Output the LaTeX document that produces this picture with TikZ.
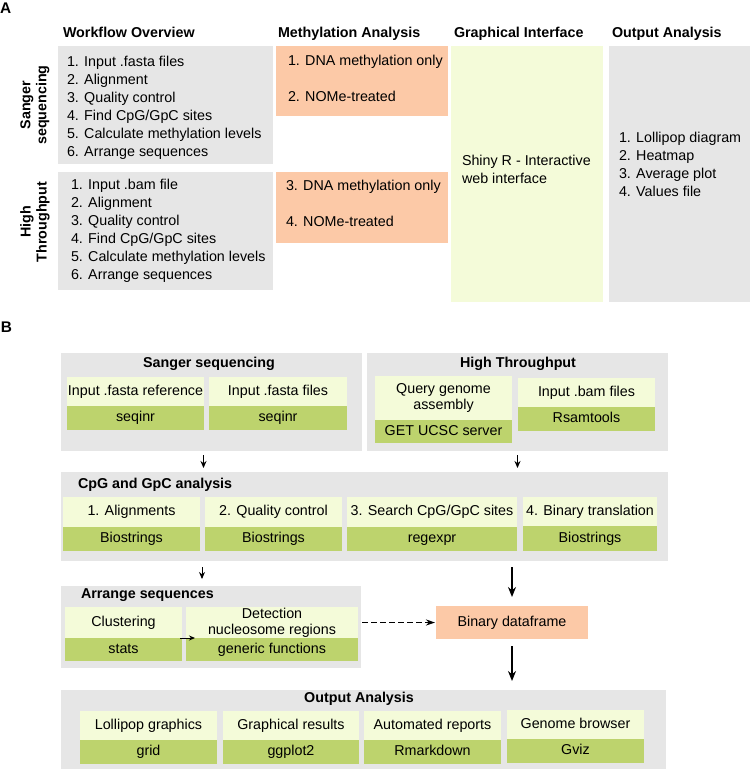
\documentclass[tikz,border=0pt]{standalone}
\usepackage{fontspec}
\setmainfont{Liberation Sans}
\usepackage{tikz}
\usetikzlibrary{arrows.meta}
\usetikzlibrary{calc}
\definecolor{grayc}{HTML}{E6E6E6}
\definecolor{orac}{HTML}{FCC9A7}
\definecolor{yelc}{HTML}{F4FBD9}
\definecolor{grnc}{HTML}{BDD36D}

\begin{document}
\begin{tikzpicture}[x=1pt, y=-1pt,
    every node/.style={font=\fontsize{14.3}{16}\selectfont, inner sep=0pt, outer sep=0pt},
    hdr/.style={font=\fontsize{14.3}{16}\selectfont\bfseries},
    lab/.style={font=\fontsize{15.4}{16}\selectfont\bfseries, anchor=base west},
    wh/.style 2 args={minimum width=#1, minimum height=#2},
    grp/.style={fill=grayc, anchor=north west},
    obox/.style={fill=orac, anchor=north west},
    ybox/.style={fill=yelc, anchor=north west, text height=10.4pt, text depth=3pt},
    ybox2/.style={fill=yelc, anchor=north west, align=center},
    gbox/.style={fill=grnc, anchor=north west, text height=10.4pt, text depth=3pt},
    smalltip/.style={-{Stealth[length=7pt, width=6pt]}, line width=0.9pt},
    bigtip/.style={-{Stealth[length=10pt, width=8pt]}, line width=1.4pt}]
    \useasboundingbox (0,0) rectangle (750,769);

    % panel A
    \node (labA) [lab] at (0,13) {A};
    \node (hwork) [hdr, anchor=base west] at (63,37) {Workflow Overview};
    \node (hmeth) [hdr, anchor=base west] at (278,37) {Methylation Analysis};
    \node (hgui) [hdr, anchor=base west] at (454,37) {Graphical Interface};
    \node (hout) [hdr, anchor=base west] at (612,37) {Output Analysis};
    \node (sangerA) [grp, wh={215}{118}] at (58,46) {};
    \node (htA) [grp, wh={215}{118}] at (58,172) {};
    \node (meth1) [obox, wh={172}{70}] at (276,46) {};
    \node (meth2) [obox, wh={172}{71}] at (276,172) {};
    \node (gui) [fill=yelc, anchor=north west, wh={152}{256}] at (451,46) {};
    \node (outA) [grp, wh={141}{256}] at (609,46) {};
    \node (sangerlab) [hdr, rotate=90, align=center] at (35,105) {Sanger\\sequencing};
    \node (htlab) [hdr, rotate=90, align=center] at (35,222) {High\\Throughput};
    \foreach \t [count=\i] in {Input .fasta files, Alignment, Quality control, Find CpG/GpC sites, Calculate methylation levels, Arrange sequences}
    \node (sl\i) [anchor=base west] at (67, 48+18*\i) {\i. \t};
    \foreach \t [count=\i] in {Input .bam file, Alignment, Quality control, Find CpG/GpC sites, Calculate methylation levels, Arrange sequences}
    \node (hl\i) [anchor=base west] at (71, 171+18*\i) {\i. \t};
    \node (m1) [anchor=base west] at (288,65) {1. DNA methylation only};
    \node (m2) [anchor=base west] at (288,101) {2. NOMe-treated};
    \node (m3) [anchor=base west] at (286,190) {3. DNA methylation only};
    \node (m4) [anchor=base west] at (286,226) {4. NOMe-treated};
    \node (shiny) [anchor=north west, align=left, font=\fontsize{14.3}{18}\selectfont] at (462,155.6) {Shiny R - Interactive\\web interface};
    \foreach \t [count=\i] in {Lollipop diagram, Heatmap, Average plot, Values file}
    \node (ol\i) [anchor=base west] at (619, 124+18*\i) {\i. \t};

    % panel B
    \node (labB) [lab] at (1,332) {B};
    \node (sanger) [grp, wh={301}{98}] at (61,353) {};
    \node (ht) [grp, wh={301}{98}] at (367,353) {};
    \node (cpg) [grp, wh={607}{89}] at (61,472) {};
    \node (arr) [grp, wh={300}{82}] at (61,586) {};
    \node (outp) [grp, wh={605}{82}] at (61,690) {};
    \node (sangerT) [hdr, anchor=base] at (209,367) {Sanger sequencing};
    \node (htT) [hdr, anchor=base] at (518,367) {High Throughput};
    \node (cpgT) [hdr, anchor=base west] at (78,488) {CpG and GpC analysis};
    \node (arrT) [hdr, anchor=base west] at (81,598) {Arrange sequences};
    \node (outT) [hdr, anchor=base] at (359,702) {Output Analysis};

    \node (refY) [ybox, wh={137}{29}] at (67,377) {Input .fasta reference};
    \node (refG) [gbox, wh={137}{24}] at (67,406) {seqinr};
    \node (filesY) [ybox, wh={138}{29}] at (209,377) {Input .fasta files};
    \node (filesG) [gbox, wh={138}{24}] at (209,406) {seqinr};
    \node (queryY) [ybox2, wh={137}{44}] at (375,376) {Query genome\\assembly};
    \node (queryG) [gbox, wh={137}{23}] at (375,420) {GET UCSC server};
    \node (bamY) [ybox, wh={137}{29}] at (518,378) {Input .bam files};
    \node (bamG) [gbox, wh={137}{24}] at (518,407) {Rsamtools};

    \node (alnY) [ybox, wh={137}{30}] at (63,497) {1. Alignments};
    \node (alnG) [gbox, wh={137}{24}] at (63,527) {Biostrings};
    \node (qcY) [ybox, wh={137}{30}] at (205,497) {2. Quality control};
    \node (qcG) [gbox, wh={137}{24}] at (205,527) {Biostrings};
    \node (srchY) [ybox, wh={170}{30}] at (347,497) {3. Search CpG/GpC sites};
    \node (srchG) [gbox, wh={170}{24}] at (347,527) {regexpr};
    \node (btrY) [ybox, wh={134}{29}] at (523,497) {4. Binary translation};
    \node (btrG) [gbox, wh={134}{25}] at (523,526) {Biostrings};

    \node (clusY) [ybox, wh={117}{31}] at (65,607) {Clustering};
    \node (clusG) [gbox, wh={117}{23}] at (65,638) {stats};
    \node (detY) [ybox2, wh={172}{31}] at (186,607) {Detection\\nucleosome regions};
    \node (detG) [gbox, wh={172}{23}] at (186,638) {generic functions};
    \node (bin) [obox, wh={152}{33}] at (436,606) {Binary dataframe};

    \node (lolY) [ybox, wh={137}{29}] at (80,711) {Lollipop graphics};
    \node (lolG) [gbox, wh={137}{24}] at (80,740) {grid};
    \node (grY) [ybox, wh={136}{29}] at (223,711) {Graphical results};
    \node (grG) [gbox, wh={136}{24}] at (223,740) {ggplot2};
    \node (repY) [ybox, wh={137}{29}] at (364,711) {Automated reports};
    \node (repG) [gbox, wh={137}{24}] at (364,740) {Rmarkdown};
    \node (gbY) [ybox, wh={137}{29}] at (507,710) {Genome browser};
    \node (gbG) [gbox, wh={137}{24}] at (507,739) {Gviz};

    % arrows
    \draw[smalltip] ($(sanger.south)+(-8,4)$) -- ($(sanger.south |- cpg.north)+(-8,-4)$);
    \draw[smalltip] ($(ht.south)+(0,4)$) -- ($(ht.south |- cpg.north)+(0,-4)$);
    \draw[smalltip] ($(cpg.south -| arr.north)+(-9,6)$) -- ($(arr.north)+(-9,-7)$);
    \draw[bigtip] ($(cpg.south -| bin.north)+(0,6)$) -- ($(bin.north)+(0,-9)$);
    \draw[bigtip] ($(bin.south)+(0,7)$) -- ($(bin.south |- outp.north)+(0,-9)$);
    \draw[-{Stealth[length=9pt, width=6pt]}, line width=1.2pt, dash pattern=on 6pt off 3pt] ($(arr.east |- bin.west)+(1,0)$) -- ($(bin.west)+(-1,0)$);
    \draw[-{Stealth[length=6pt, width=5pt]}, line width=0.9pt] ($(clusY.south east)+(-2,0)$) -- ($(detY.south west)+(9,0)$);
  \end{tikzpicture}
\end{document}
